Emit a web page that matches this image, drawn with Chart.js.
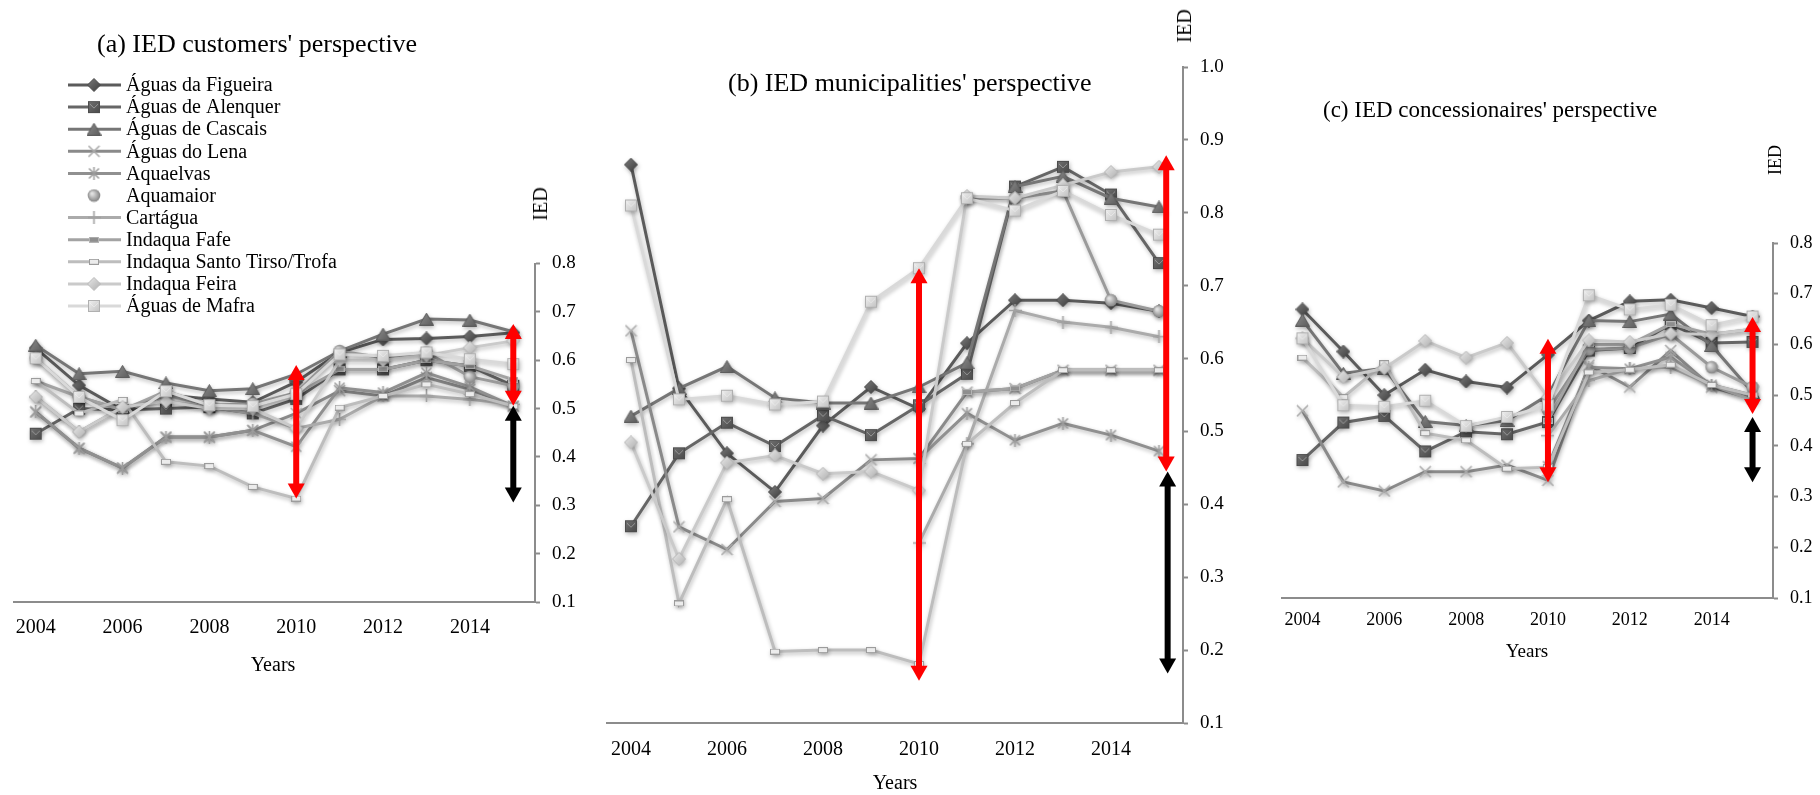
<!DOCTYPE html>
<html>
<head>
<meta charset="utf-8">
<script src="https://cdn.jsdelivr.net/npm/chart.js@4.4.1/dist/chart.umd.min.js"></script>
<style>
  html, body { margin: 0; padding: 0; background: #fff; }
  #stage { position: relative; width: 1820px; height: 795px; overflow: hidden; background: #fff;
           font-family: 'Liberation Serif', 'Times New Roman', serif; color: #000; }
  #stage canvas { position: absolute; top: 0; }
  .txt { position: absolute; white-space: nowrap; line-height: 1; }
  .ctr { transform: translate(-50%, -50%); }
  .rot { transform: translate(-50%, -50%) rotate(-90deg); }
</style>
</head>
<body>
<div id="stage">
  <canvas id="chartA" width="600" height="700" style="left:0px"></canvas>
  <canvas id="chartB" width="690" height="795" style="left:560px"></canvas>
  <canvas id="chartC" width="580" height="795" style="left:1240px"></canvas>

  <div class="txt" style="left:97px; top:31px; font-size:26px;">(a) IED customers' perspective</div>
  <div class="txt" style="left:728px; top:70px; font-size:26px;">(b) IED municipalities' perspective</div>
  <div class="txt" style="left:1323px; top:98px; font-size:23px;">(c) IED concessionaires' perspective</div>

  <div class="txt rot" style="left:540px; top:204px; font-size:20px;">IED</div>
  <div class="txt rot" style="left:1184px; top:26px; font-size:20px;">IED</div>
  <div class="txt rot" style="left:1775px; top:160px; font-size:18px;">IED</div>

  <div class="txt ctr" style="left:273px; top:664px; font-size:20px;">Years</div>
  <div class="txt ctr" style="left:895px; top:782px; font-size:20px;">Years</div>
  <div class="txt ctr" style="left:1527px; top:650px; font-size:19px;">Years</div>
</div>

<script>
// ---- categories -------------------------------------------------------
const years = [2004, 2005, 2006, 2007, 2008, 2009, 2010, 2011, 2012, 2013, 2014, 2015];
const yearTicks = [2004, 2006, 2008, 2010, 2012, 2014];
const seriesNames = ['Águas da Figueira', 'Águas de Alenquer', 'Águas de Cascais', 'Águas do Lena',
  'Aquaelvas', 'Aquamaior', 'Cartágua', 'Indaqua Fafe', 'Indaqua Santo Tirso/Trofa',
  'Indaqua Feira', 'Águas de Mafra'];

// ---- (a) customers' perspective -------------------------------------
const custFigueira   = [0.625, 0.548, 0.497, 0.528, 0.520, 0.513, 0.555, 0.616, 0.643, 0.645, 0.649, 0.657];
const custAlenquer   = [0.448, 0.500, 0.497, 0.500, 0.503, 0.490, 0.520, 0.581, 0.581, 0.600, 0.588, 0.547];
const custCascais    = [0.631, 0.572, 0.577, 0.553, 0.537, 0.541, 0.571, 0.619, 0.654, 0.685, 0.683, 0.659];
const custLena       = [0.493, 0.418, 0.377, 0.441, 0.441, 0.455, 0.490, 0.537, 0.526, 0.564, 0.540, 0.505];
const custAquaelvas  = [0.493, 0.418, 0.377, 0.441, 0.441, 0.455, 0.421, 0.543, 0.533, 0.574, 0.545, 0.505];
const custAquamaior  = [0.604, 0.524, 0.497, 0.528, 0.507, 0.510, 0.533, 0.619, 0.605, 0.616, 0.566, 0.547];
const custCartagua   = [0.524, 0.452, 0.503, 0.515, 0.503, 0.490, 0.459, 0.478, 0.526, 0.526, 0.519, 0.509];
const custFafe       = [0.557, 0.524, 0.497, 0.536, 0.507, 0.505, 0.530, 0.581, 0.581, 0.600, 0.588, 0.560];
const custSantoTirso = [0.557, 0.490, 0.518, 0.390, 0.381, 0.338, 0.314, 0.502, 0.526, 0.550, 0.530, 0.505];
const custFeira      = [0.524, 0.452, 0.503, 0.515, 0.500, 0.500, 0.459, 0.600, 0.600, 0.610, 0.626, 0.640];
const custMafra      = [0.604, 0.524, 0.476, 0.536, 0.507, 0.505, 0.530, 0.612, 0.609, 0.616, 0.602, 0.592];

// ---- (b) municipalities' perspective --------------------------------
const muniFigueira   = [0.866, 0.559, 0.470, 0.417, 0.508, 0.561, 0.531, 0.621, 0.680, 0.680, 0.676, 0.665];
const muniAlenquer   = [0.370, 0.470, 0.512, 0.480, 0.522, 0.495, 0.536, 0.579, 0.836, 0.863, 0.825, 0.731];
const muniCascais    = [0.521, 0.559, 0.589, 0.546, 0.539, 0.539, 0.561, 0.594, 0.836, 0.850, 0.820, 0.808];
const muniLena       = [0.638, 0.369, 0.338, 0.404, 0.408, 0.461, 0.463, 0.554, 0.559, 0.584, 0.584, 0.584];
const muniAquaelvas  = [null, null, null, null, null, null, 0.463, 0.525, 0.488, 0.511, 0.495, 0.473];
const muniAquamaior  = [null, null, null, null, null, null, null, 0.820, 0.820, 0.830, 0.680, 0.665];
const muniCartagua   = [null, null, null, null, null, null, 0.347, 0.483, 0.666, 0.650, 0.643, 0.630];
const muniFafe       = [null, null, null, null, null, null, null, 0.554, 0.559, 0.584, 0.584, 0.584];
const muniSantoTirso = [0.598, 0.264, 0.407, 0.198, 0.200, 0.200, 0.181, 0.483, 0.539, 0.584, 0.584, 0.584];
const muniFeira      = [0.485, 0.325, 0.457, 0.467, 0.442, 0.445, 0.419, 0.823, 0.820, 0.838, 0.856, 0.863];
const muniMafra      = [0.810, 0.544, 0.549, 0.537, 0.541, 0.678, 0.724, 0.820, 0.803, 0.830, 0.797, 0.770];

// ---- (c) concessionaires' perspective -------------------------------
const concFigueira   = [0.669, 0.586, 0.500, 0.550, 0.527, 0.515, 0.580, 0.647, 0.685, 0.688, 0.672, 0.655];
const concAlenquer   = [0.372, 0.446, 0.459, 0.389, 0.428, 0.423, 0.447, 0.588, 0.593, 0.640, 0.603, 0.605];
const concCascais    = [0.648, 0.543, 0.553, 0.448, 0.440, 0.450, 0.500, 0.647, 0.645, 0.660, 0.598, 0.505];
const concLena       = [0.469, 0.329, 0.311, 0.349, 0.349, 0.362, 0.332, 0.559, 0.516, 0.588, 0.516, 0.493];
const concAquaelvas  = [null, null, null, null, null, null, 0.360, 0.555, 0.552, 0.575, 0.520, 0.500];
const concAquamaior  = [null, null, null, null, null, null, 0.470, 0.590, 0.593, 0.620, 0.555, 0.516];
const concCartagua   = [null, null, null, null, null, null, 0.420, 0.529, 0.552, 0.555, 0.520, 0.490];
const concFafe       = [null, null, null, null, null, null, 0.450, 0.600, 0.600, 0.640, 0.620, 0.630];
const concSantoTirso = [0.574, 0.496, 0.563, 0.425, 0.411, 0.355, 0.358, 0.545, 0.550, 0.560, 0.520, 0.500];
const concFeira      = [0.612, 0.536, 0.553, 0.607, 0.574, 0.603, 0.496, 0.608, 0.605, 0.621, 0.620, 0.630];
const concMafra      = [0.612, 0.480, 0.477, 0.489, 0.439, 0.457, 0.480, 0.697, 0.669, 0.678, 0.638, 0.655];

// ---- range arrows: [year, low, high] --------------------------------
const custRedArrows   = [[2010, 0.314, 0.590], [2015, 0.506, 0.675]];
const custBlackArrows = [[2015, 0.306, 0.506]];
const muniRedArrows   = [[2010, 0.158, 0.724], [2015.15, 0.445, 0.879]];
const muniBlackArrows = [[2015.18, 0.168, 0.445]];
const concRedArrows   = [[2010, 0.328, 0.611], [2015, 0.463, 0.654]];
const concBlackArrows = [[2015, 0.328, 0.457]];

// ---- marker glyphs ----------------------------------------------------
function glyph(w, h, paint) {
  const c = document.createElement('canvas');
  c.width = w; c.height = h;
  paint(c.getContext('2d'), w, h);
  return c;
}
function grad(g, w, h, c1, c2) {
  const lg = g.createLinearGradient(0, 0, w, h);
  lg.addColorStop(0, c1); lg.addColorStop(1, c2);
  return lg;
}
const diamond = (c1, c2, edge) => glyph(14, 14, (g, w, h) => {
  g.beginPath(); g.moveTo(7, 0.5); g.lineTo(13.5, 7); g.lineTo(7, 13.5); g.lineTo(0.5, 7); g.closePath();
  g.fillStyle = grad(g, w, h, c1, c2); g.fill();
  g.strokeStyle = edge; g.lineWidth = 1; g.stroke();
});
const square = (c1, c2, edge) => glyph(14, 14, (g, w, h) => {
  g.fillStyle = grad(g, w, h, c1, c2); g.fillRect(1, 1, 12, 12);
  g.strokeStyle = edge; g.lineWidth = 1; g.strokeRect(1.5, 1.5, 11, 11);
  g.beginPath(); g.moveTo(3, 4); g.lineTo(7, 8); g.lineTo(11, 4);
  g.strokeStyle = 'rgba(255,255,255,0.35)'; g.stroke();
});
const triangle = glyph(15, 13, (g, w, h) => {
  g.beginPath(); g.moveTo(7.5, 0.5); g.lineTo(14.5, 12.5); g.lineTo(0.5, 12.5); g.closePath();
  g.fillStyle = grad(g, w, h, '#8e8e8e', '#5a5a5a'); g.fill();
  g.strokeStyle = '#5c5c5c'; g.lineWidth = 1; g.stroke();
});
const cross = glyph(13, 13, (g) => {
  g.strokeStyle = '#ababab'; g.lineWidth = 1.6;
  g.beginPath(); g.moveTo(1, 1); g.lineTo(12, 12); g.moveTo(12, 1); g.lineTo(1, 12); g.stroke();
});
const asterisk = glyph(13, 13, (g) => {
  g.strokeStyle = '#9c9c9c'; g.lineWidth = 1.5;
  g.beginPath(); g.moveTo(1.5, 1.5); g.lineTo(11.5, 11.5); g.moveTo(11.5, 1.5); g.lineTo(1.5, 11.5);
  g.moveTo(6.5, 0); g.lineTo(6.5, 13); g.stroke();
});
const ball = glyph(14, 14, (g) => {
  const rg = g.createRadialGradient(5, 5, 1, 7, 7, 7);
  rg.addColorStop(0, '#e0e0e0'); rg.addColorStop(1, '#7a7a7a');
  g.beginPath(); g.arc(7, 7, 6.3, 0, Math.PI * 2); g.fillStyle = rg; g.fill();
});
const plus = glyph(13, 13, (g) => {
  g.strokeStyle = '#a2a2a2'; g.lineWidth = 1.6;
  g.beginPath(); g.moveTo(6.5, 0); g.lineTo(6.5, 13); g.moveTo(0, 6.5); g.lineTo(13, 6.5); g.stroke();
});
const tab = (fill, edge) => glyph(10, 6, (g) => {
  g.fillStyle = fill; g.fillRect(0.5, 0.5, 9, 5);
  g.strokeStyle = edge; g.lineWidth = 1; g.strokeRect(0.5, 0.5, 9, 5);
});

const lineColors = ['#5b5b5b', '#666666', '#767676', '#8a8a8a', '#909090', '#9a9a9a',
                    '#ababab', '#a3a3a3', '#bdbdbd', '#cacaca', '#d9d9d9'];
const markers = [
  diamond('#7c7c7c', '#3c3c3c', '#4a4a4a'),
  square('#767676', '#454545', '#4d4d4d'),
  triangle,
  cross,
  asterisk,
  ball,
  plus,
  tab('#8e8e8e', '#b4b4b4'),
  tab('#ececec', '#9c9c9c'),
  diamond('#ececec', '#adadad', '#b8b8b8'),
  square('#f6f6f6', '#bcbcbc', '#b0b0b0')
];

function buildSets(values) {
  return values.map((vals, i) => ({
    label: seriesNames[i],
    data: vals,
    borderColor: lineColors[i],
    backgroundColor: lineColors[i],
    borderWidth: 3,
    pointStyle: markers[i],
    pointRadius: 6,
    pointHoverRadius: 6,
    tension: 0,
    fill: false,
    spanGaps: false,
    clip: false,
    order: values.length - i,
    keyLine: i !== 5
  }));
}

// ---- plugins ------------------------------------------------------------
const softShadow = {
  id: 'softShadow',
  beforeDatasetDraw(chart) {
    const c = chart.ctx;
    c.save();
    c.shadowColor = 'rgba(0,0,0,0.28)';
    c.shadowBlur = 4;
    c.shadowOffsetX = 1;
    c.shadowOffsetY = 2;
  },
  afterDatasetDraw(chart) { chart.ctx.restore(); }
};

function drawRange(ctx, x, yLow, yHigh, color) {
  const headLen = 15, headHalf = 8.5, shaft = 6;
  ctx.fillStyle = color;
  ctx.fillRect(x - shaft / 2, yHigh + headLen - 1, shaft, (yLow - yHigh) - 2 * headLen + 2);
  ctx.beginPath();
  ctx.moveTo(x, yHigh); ctx.lineTo(x + headHalf, yHigh + headLen); ctx.lineTo(x - headHalf, yHigh + headLen);
  ctx.closePath(); ctx.fill();
  ctx.beginPath();
  ctx.moveTo(x, yLow); ctx.lineTo(x + headHalf, yLow - headLen); ctx.lineTo(x - headHalf, yLow - headLen);
  ctx.closePath(); ctx.fill();
}
const rangeArrows = {
  id: 'rangeArrows',
  afterDatasetsDraw(chart, args, opts) {
    const ctx = chart.ctx, xs = chart.scales.x, ys = chart.scales.y;
    ctx.save();
    (opts.red || []).forEach(a => drawRange(ctx, xs.getPixelForValue(a[0]), ys.getPixelForValue(a[1]), ys.getPixelForValue(a[2]), '#ff0000'));
    (opts.black || []).forEach(a => drawRange(ctx, xs.getPixelForValue(a[0]), ys.getPixelForValue(a[1]), ys.getPixelForValue(a[2]), '#000000'));
    ctx.restore();
  }
};

const seriesKey = {
  id: 'seriesKey',
  afterDraw(chart, args, opts) {
    if (!opts.show) return;
    const ctx = chart.ctx;
    ctx.save();
    ctx.font = '20px "Liberation Serif", "Times New Roman", serif';
    ctx.textBaseline = 'middle';
    ctx.fillStyle = '#000';
    chart.data.datasets.forEach((ds, i) => {
      const y = 85 + i * 22.1;
      if (ds.keyLine) {
        ctx.strokeStyle = ds.borderColor;
        ctx.lineWidth = 3;
        ctx.beginPath(); ctx.moveTo(68, y); ctx.lineTo(121, y); ctx.stroke();
      }
      const m = ds.pointStyle;
      ctx.drawImage(m, 94 - m.width / 2, y - m.height / 2);
      ctx.fillText(ds.label, 126, y + 1);
    });
    ctx.restore();
  }
};

// ---- chart factory --------------------------------------------------------
function makePanel(id, values, cfg) {
  const serif = "'Liberation Serif', 'Times New Roman', serif";
  return new Chart(document.getElementById(id), {
    type: 'line',
    data: { labels: years, datasets: buildSets(values) },
    plugins: [softShadow, rangeArrows, seriesKey],
    options: {
      responsive: false,
      animation: false,
      events: [],
      layout: { padding: { left: cfg.padLeft, top: cfg.padTop, right: 0, bottom: 0 } },
      plugins: {
        legend: { display: false },
        tooltip: { enabled: false },
        rangeArrows: { red: cfg.red, black: cfg.black },
        seriesKey: { show: !!cfg.key }
      },
      scales: {
        x: {
          type: 'linear',
          min: 2003.5,
          max: 2015.5,
          afterBuildTicks: s => { s.ticks = yearTicks.map(v => ({ value: v })); },
          afterFit: s => { s.height = cfg.xHeight; },
          grid: { display: false, drawTicks: false, tickLength: 0 },
          border: { display: true, color: '#8c8c8c', width: 2 },
          ticks: { color: '#000', padding: cfg.xPad, maxRotation: 0, autoSkip: false,
                   font: { family: serif, size: cfg.xFont }, callback: v => String(v) }
        },
        y: {
          position: 'right',
          min: 0.1,
          max: cfg.yMax,
          afterFit: s => { s.width = cfg.yWidth; },
          grid: { display: true, drawOnChartArea: false, drawTicks: true, tickLength: 5,
                  color: '#8c8c8c', tickColor: '#8c8c8c', tickWidth: 2 },
          border: { display: true, color: '#8c8c8c', width: 2 },
          ticks: { color: '#000', stepSize: 0.1, padding: 12,
                   font: { family: serif, size: cfg.yFont }, callback: v => v.toFixed(1) }
        }
      }
    }
  });
}

makePanel('chartA',
  [custFigueira, custAlenquer, custCascais, custLena, custAquaelvas, custAquamaior,
   custCartagua, custFafe, custSantoTirso, custFeira, custMafra],
  { padLeft: 14, padTop: 263.5, yWidth: 65, xHeight: 98, yMax: 0.8, xPad: 14, xFont: 20, yFont: 19,
    red: custRedArrows, black: custBlackArrows, key: true });

makePanel('chartB',
  [muniFigueira, muniAlenquer, muniCascais, muniLena, muniAquaelvas, muniAquamaior,
   muniCartagua, muniFafe, muniSantoTirso, muniFeira, muniMafra],
  { padLeft: 47, padTop: 67, yWidth: 67, xHeight: 72, yMax: 1.0, xPad: 15, xFont: 20, yFont: 19,
    red: muniRedArrows, black: muniBlackArrows });

makePanel('chartC',
  [concFigueira, concAlenquer, concCascais, concLena, concAquaelvas, concAquamaior,
   concCartagua, concFafe, concSantoTirso, concFeira, concMafra],
  { padLeft: 42, padTop: 243, yWidth: 47, xHeight: 197, yMax: 0.8, xPad: 11, xFont: 18, yFont: 18,
    red: concRedArrows, black: concBlackArrows });
</script>
</body>
</html>
